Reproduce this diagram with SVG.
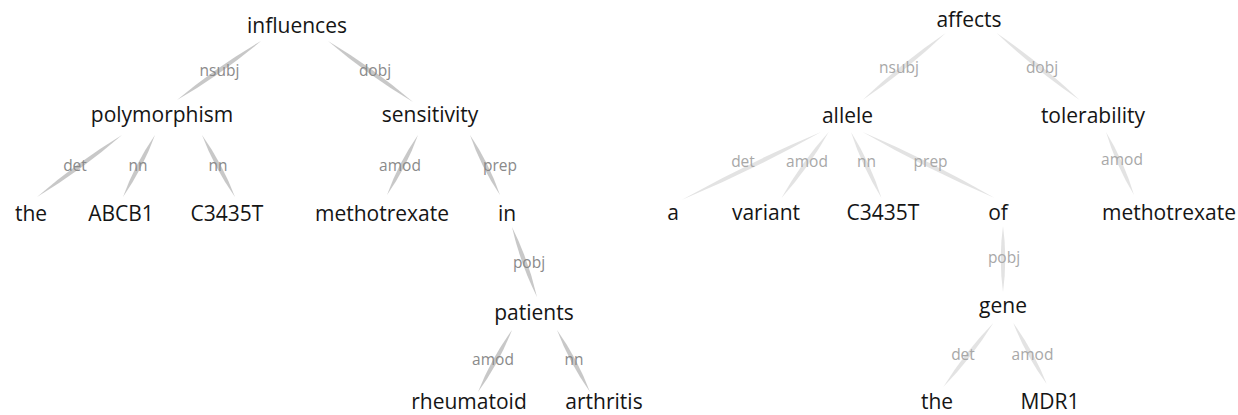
<svg xmlns="http://www.w3.org/2000/svg" width="1238" height="415" viewBox="0 0 1238 415">
<style>
.w{font-family:"Open Sans","Noto Sans",sans-serif;font-size:21px;fill:#151515;text-anchor:middle}
.l{font-family:"Open Sans","Noto Sans",sans-serif;font-size:15.5px;text-anchor:middle}
.la{fill:#8a8a8a}
.lb{fill:#a8a8a8}
.ea{fill:#c8c8c8}
.eb{fill:#e3e3e3}
</style>
<rect width="1238" height="415" fill="#ffffff"/>
<g id="connectors">
<path class="ea" d="M261,41 Q216.4,66.8 177,100 Q221.6,74.2 261,41Z"/>
<path class="ea" d="M328,41 Q367.9,75.2 413,102 Q373.1,67.8 328,41Z"/>
<path class="ea" d="M122,135 Q76.85,162.4 37,197 Q82.15,169.6 122,135Z"/>
<path class="ea" d="M155,135 Q135,163.9 123,197 Q143,168.1 155,135Z"/>
<path class="ea" d="M202,135 Q214.5,168.1 235,197 Q222.5,163.9 202,135Z"/>
<path class="ea" d="M418,135 Q398.5,162.9 387,195 Q406.5,167.1 418,135Z"/>
<path class="ea" d="M470,135 Q481,167 500,195 Q489,163 470,135Z"/>
<path class="ea" d="M512,227 Q520.3,263.5 537,297 Q528.7,260.5 512,227Z"/>
<path class="ea" d="M512,330 Q491.1,358.8 478,392 Q498.9,363.2 512,330Z"/>
<path class="ea" d="M557,330 Q569.5,363.1 590,392 Q577.5,358.9 557,330Z"/>
<path class="eb" d="M945.7,33 Q901.4,63 862.6,100 Q907,70 945.7,33Z"/>
<path class="eb" d="M996.6,33 Q1035.3,70 1079.6,100 Q1040.9,63 996.6,33Z"/>
<path class="eb" d="M821,132 Q749.3,162 681.5,200 Q753.3,170 821,132Z"/>
<path class="eb" d="M828.7,132 Q801.4,162.4 781.5,198 Q808.8,167.6 828.7,132Z"/>
<path class="eb" d="M851,132 Q862.2,166.9 881.5,198 Q870.4,163.1 851,132Z"/>
<path class="eb" d="M862.6,132 Q926.7,169 994.7,198 Q930.7,161 862.6,132Z"/>
<path class="eb" d="M1106,132 Q1115.9,165.3 1134,195 Q1124.1,161.7 1106,132Z"/>
<path class="eb" d="M1003,226 Q998.5,259 1003,292 Q1007.5,259 1003,226Z"/>
<path class="eb" d="M993.3,323 Q964.8,352.2 943.3,387 Q971.8,357.8 993.3,323Z"/>
<path class="eb" d="M1013.3,323 Q1026.1,355.7 1046.7,384 Q1033.9,351.3 1013.3,323Z"/>
</g>
<g id="labels">
<text class="l la" x="219.5" y="76">nsubj</text>
<text class="l la" x="375" y="76">dobj</text>
<text class="l la" x="75" y="171">det</text>
<text class="l la" x="138" y="171">nn</text>
<text class="l la" x="218" y="171">nn</text>
<text class="l la" x="400" y="171">amod</text>
<text class="l la" x="500" y="171">prep</text>
<text class="l la" x="529" y="268">pobj</text>
<text class="l la" x="493" y="365">amod</text>
<text class="l la" x="574" y="365">nn</text>
<text class="l lb" x="899" y="73">nsubj</text>
<text class="l lb" x="1042" y="73">dobj</text>
<text class="l lb" x="743" y="167">det</text>
<text class="l lb" x="807" y="167">amod</text>
<text class="l lb" x="866.6" y="167">nn</text>
<text class="l lb" x="930.6" y="167">prep</text>
<text class="l lb" x="1122" y="165">amod</text>
<text class="l lb" x="1004" y="263">pobj</text>
<text class="l lb" x="963" y="360">det</text>
<text class="l lb" x="1032.5" y="360">amod</text>
</g>
<g id="n-influences"><text class="w" x="297" y="33">influences</text></g>
<g id="n-polymorphism"><text class="w" x="162" y="122">polymorphism</text></g>
<g id="n-sensitivity"><text class="w" x="430" y="122">sensitivity</text></g>
<g id="n-the1"><text class="w" x="31" y="221">the</text></g>
<g id="n-abcb1"><text class="w" x="121" y="221">ABCB1</text></g>
<g id="n-c3435t1"><text class="w" x="227" y="221">C3435T</text></g>
<g id="n-methotrexate1"><text class="w" x="382" y="221">methotrexate</text></g>
<g id="n-in"><text class="w" x="507" y="221">in</text></g>
<g id="n-patients"><text class="w" x="534" y="320">patients</text></g>
<g id="n-rheumatoid"><text class="w" x="469" y="409">rheumatoid</text></g>
<g id="n-arthritis"><text class="w" x="604" y="409">arthritis</text></g>
<g id="n-affects"><text class="w" x="969" y="27">affects</text></g>
<g id="n-allele"><text class="w" x="847.5" y="123">allele</text></g>
<g id="n-tolerability"><text class="w" x="1093" y="123">tolerability</text></g>
<g id="n-a"><text class="w" x="673" y="220">a</text></g>
<g id="n-variant"><text class="w" x="766" y="220">variant</text></g>
<g id="n-c3435t2"><text class="w" x="883" y="220">C3435T</text></g>
<g id="n-of"><text class="w" x="998" y="220">of</text></g>
<g id="n-methotrexate2"><text class="w" x="1169" y="220">methotrexate</text></g>
<g id="n-gene"><text class="w" x="1003" y="313">gene</text></g>
<g id="n-the2"><text class="w" x="937" y="409">the</text></g>
<g id="n-mdr1"><text class="w" x="1050" y="409">MDR1</text></g>
</svg>
